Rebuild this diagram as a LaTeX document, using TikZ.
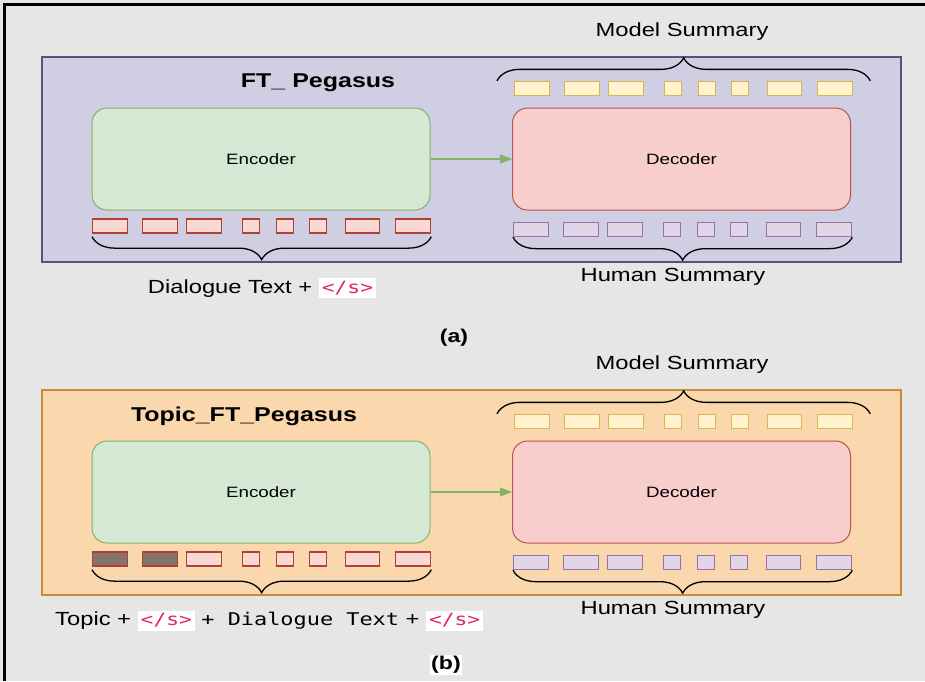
\documentclass[tikz,border=0pt]{standalone}
\usepackage{fontspec}
\setmainfont[FakeStretch=1.25]{Liberation Sans}
\setmonofont[FakeStretch=1.25]{DejaVu Sans Mono}
\usetikzlibrary{positioning,arrows.meta,decorations.pathreplacing}

\definecolor{bggray}{HTML}{E6E6E6}
\definecolor{panelA}{HTML}{D0CEE2}
\definecolor{panelAline}{HTML}{56517E}
\definecolor{panelB}{HTML}{FAD7AC}
\definecolor{panelBline}{HTML}{C98A3C}
\definecolor{encfill}{HTML}{D5E8D4}
\definecolor{encline}{HTML}{82B366}
\definecolor{decfill}{HTML}{F8CECC}
\definecolor{decline}{HTML}{B85450}
\definecolor{tokyel}{HTML}{FFF2CC}
\definecolor{tokyelline}{HTML}{D6B656}
\definecolor{tokred}{HTML}{FAD9D5}
\definecolor{tokredline}{HTML}{AE4132}
\definecolor{tokpur}{HTML}{E1D5E7}
\definecolor{tokpurline}{HTML}{9673A6}
\definecolor{topicgray}{HTML}{857370}
\definecolor{eosred}{HTML}{E0245E}

\newcommand\eos{\begingroup\setlength{\fboxsep}{3pt}\colorbox{white}{\fontsize{17}{20}\selectfont\ttfamily\color{eosred}</s>}\endgroup}

\begin{document}
\begin{tikzpicture}[x=1pt,y=-1pt,
  lbl/.style={inner sep=0pt, font=\fontsize{19}{22}\selectfont},
  ttl/.style={inner sep=0pt, font=\fontsize{20}{24}\selectfont\bfseries},
  blk/.style={draw, line width=1pt, rounded corners=15pt, minimum width=338pt, minimum height=102pt, font=\fontsize{15}{18}\selectfont},
  tok/.style={draw, line width=1.3pt, minimum height=14pt, inner sep=0pt, anchor=west},
  brc/.style={decorate, decoration={brace, amplitude=23pt}, line width=1.3pt},
  flow/.style={draw=encline, line width=1.2pt, -{Triangle[length=12pt,width=9pt]}}]

  \useasboundingbox (0,0) rectangle (925,681);
  \fill[bggray] (0,0) rectangle (925,681);
  \draw[line width=2.8pt] (4.5,681) -- (4.5,4.5) -- (925,4.5);

  % the two panels
  \draw[fill=panelA, draw=panelAline, line width=1.3pt] (42,57) rectangle (901,262);
  \draw[fill=panelB, draw=panelBline, line width=1.3pt] (42,390) rectangle (901,595);
  \node[ttl] (title-a) at (318,83) {FT\_ Pegasus};
  \node[ttl] (title-b) at (244,416) {Topic\_FT\_Pegasus};

  \foreach \p/\dy/\ndark in {a/0/0,b/333/2}{
    \node[blk, fill=encfill, draw=encline] (enc-\p) at (261,159+\dy) {Encoder};
    \node[blk, fill=decfill, draw=decline] (dec-\p) at (681.5,159+\dy) {Decoder};
    \draw[flow] (enc-\p) -- (dec-\p);
    % token rows
    \foreach \a/\b [count=\i] in {0/35,50/85,94/129,150/167,184/201,217/234,253/287,303/338}{
      \ifnum\i>\ndark\relax \def\tf{tokred}\else \def\tf{topicgray}\fi
      \node[tok, fill=\tf, draw=tokredline, minimum width=\b-\a] (tokin-\p-\i) at (92+\a,226+\dy) {};
      \node[tok, fill=tokpur, draw=tokpurline, minimum width=\b-\a] (tokhum-\p-\i) at (513+\a,229.5+\dy) {};
      \node[tok, fill=tokyel, draw=tokyelline, minimum width=\b-\a] (tokmod-\p-\i) at (514+\a,88.5+\dy) {};
    }
    \draw[brc] ([xshift=-17pt]tokmod-\p-1.north west) -- ([xshift=17pt]tokmod-\p-8.north east);
    \draw[brc] ([yshift=-3pt]tokin-\p-8.south east) -- ([yshift=-3pt]tokin-\p-1.south west);
    \draw[brc] (tokhum-\p-8.south east) -- (tokhum-\p-1.south west);
    \node[lbl] (model-\p) at (682,31.5+\dy) {Model Summary};
    \node[lbl] (human-\p) at (673,276.5+\dy) {Human Summary};
  }

  \node[lbl] (input-a) at (262,288) {Dialogue Text + \eos};
  \node[lbl, anchor=west] (input-b) at (55,620.5) {Topic + \eos\ {\fontsize{17.5}{20}\selectfont\ttfamily + Dialogue Text} + \eos};
  \node[font=\fontsize{18.5}{22}\selectfont\bfseries] (cap-a) at (454,338) {(a)};
  \node[fill=white, inner sep=1.5pt, font=\fontsize{18.5}{22}\selectfont\bfseries] (cap-b) at (446,665) {(b)};
\end{tikzpicture}
\end{document}
